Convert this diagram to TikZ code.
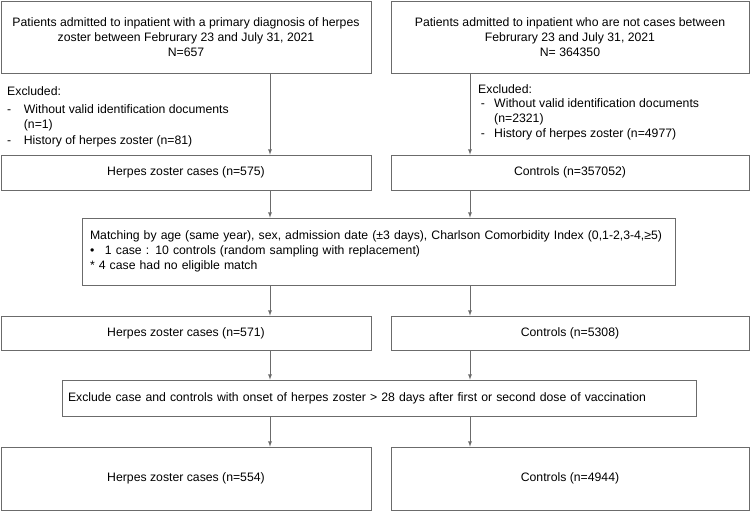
\documentclass[tikz,border=0pt]{standalone}
\usepackage{fontspec}
\setmainfont{Liberation Sans}
\definecolor{linegray}{gray}{0.42}
\newcommand\leftx{8.1}
\newcommand\rightx{14.1}

\begin{document}
\begin{tikzpicture}[font=\fontsize{10.45}{12.7}\selectfont,
    box/.style = {draw=linegray, line width=0.6pt, align=center, inner sep=0pt},
    arr/.style = {->, >=latex, draw=linegray, line width=0.6pt},
    excl/.style = {anchor=north west, align=left, inner sep=0pt}]

    \useasboundingbox (0,0) rectangle (22.5,-15.33);

    %Source populations
    \node at (5.58, -1.11) [box, minimum width=11.1cm, minimum height=2.16cm] (pop_case) {Patients admitted to inpatient with a primary diagnosis of herpes\\ zoster between Februrary 23 and July 31, 2021\\ N=657};
    \node at (17.1, -1.11) [box, minimum width=10.74cm, minimum height=2.16cm] (pop_ctrl) {Patients admitted to inpatient who are not cases between\\ Februrary 23 and July 31, 2021\\ N= 364350};

    %Exclusions
    \node at (0.21, -2.58) [excl] (ex_case) {Excluded:\\[3pt] \makebox[0.5cm][l]{-}Without valid identification documents\\ \hspace{0.5cm}(n=1)\\[1pt] \makebox[0.5cm][l]{-}History of herpes zoster (n=81)};
    \node at (14.34, -2.52) [excl] (ex_ctrl) {Excluded:\\ \hspace{0.08cm}\makebox[0.4cm][l]{-}Without valid identification documents\\ \hspace{0.48cm}(n=2321)\\ \hspace{0.08cm}\makebox[0.4cm][l]{-}History of herpes zoster (n=4977)};

    \node at (5.58, -5.175) [box, minimum width=11.1cm, minimum height=1.05cm] (case_1) {Herpes zoster cases (n=575)};
    \node at (17.1, -5.175) [box, minimum width=10.74cm, minimum height=1.05cm] (ctrl_1) {Controls (n=357052)};

    %Matching
    \node at (11.355, -7.545) [box, align=left, text width=17.31cm, inner xsep=0.24cm, minimum height=2.01cm] (match) {\mbox{Matching by age (same year), sex, admission date (±3 days), Charlson Comorbidity Index (0,1-2,3-4,≥5)}\\ \makebox[0.45cm][l]{•}1 case : 10 controls (random sampling with replacement)\\ {*} 4 case had no eligible match};

    \node at (5.58, -9.99) [box, minimum width=11.1cm, minimum height=1.02cm] (case_2) {Herpes zoster cases (n=571)};
    \node at (17.1, -9.99) [box, minimum width=10.74cm, minimum height=1.02cm] (ctrl_2) {Controls (n=5308)};

    %Vaccination window
    \node at (11.37, -11.94) [box, align=left, text width=18.66cm, inner xsep=0.18cm, minimum height=1.08cm] (vacc) {Exclude case and controls with onset of herpes zoster > 28 days after first or second dose of vaccination};

    \node at (5.58, -14.355) [box, minimum width=11.1cm, minimum height=1.89cm] (case_3) {Herpes zoster cases (n=554)};
    \node at (17.1, -14.355) [box, minimum width=10.74cm, minimum height=1.89cm] (ctrl_3) {Controls (n=4944)};

    \draw[arr] (pop_case.south -| \leftx,0) -- (case_1.north -| \leftx,0);
    \draw[arr] (pop_ctrl.south -| \rightx,0) -- (ctrl_1.north -| \rightx,0);
    \draw[arr] (case_1.south -| \leftx,0) -- (match.north -| \leftx,0);
    \draw[arr] (ctrl_1.south -| \rightx,0) -- (match.north -| \rightx,0);
    \draw[arr] (match.south -| \leftx,0) -- (case_2.north -| \leftx,0);
    \draw[arr] (match.south -| \rightx,0) -- (ctrl_2.north -| \rightx,0);
    \draw[arr] (case_2.south -| \leftx,0) -- (vacc.north -| \leftx,0);
    \draw[arr] (ctrl_2.south -| \rightx,0) -- (vacc.north -| \rightx,0);
    \draw[arr] (vacc.south -| \leftx,0) -- (case_3.north -| \leftx,0);
    \draw[arr] (vacc.south -| \rightx,0) -- (ctrl_3.north -| \rightx,0);
\end{tikzpicture}
\end{document}
